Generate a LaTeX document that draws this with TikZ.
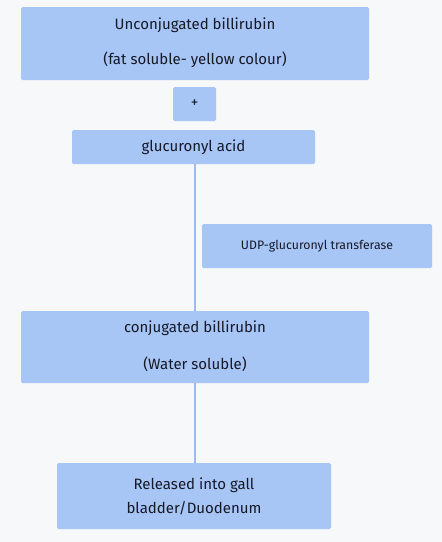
\documentclass[tikz,border=0pt]{standalone}
\usepackage{fontspec}
\setmainfont{Fira Sans}
\definecolor{bg}{HTML}{F7F8FA}
\definecolor{boxfill}{HTML}{A7C5F5}
\definecolor{txt}{HTML}{161927}
\definecolor{linec}{HTML}{9BBCF3}
\begin{document}
\begin{tikzpicture}[x=1pt,y=-1pt,
  box/.style={fill=boxfill, rounded corners=1.5pt, text=txt, font=\fontsize{15}{18}\selectfont},
  lbl/.style={text=txt, font=\fontsize{15}{18}\selectfont},
  conn/.style={draw=linec, line width=1.3pt}]
\fill[bg] (0,0) rectangle (442,542);
\useasboundingbox (0,0) rectangle (442,542);
% boxes
\path[box] (21,7) rectangle (369,80);
\node[lbl] (unc1) at (195,25) {Unconjugated billirubin};
\node[lbl] (unc2) at (195,60) {(fat soluble- yellow colour)};

\node[box, minimum width=43pt, minimum height=34pt, inner sep=0pt, font=\fontsize{15}{18}\selectfont] (plus) at (194.5,104) {+};

\node[box, minimum width=243pt, minimum height=34pt, inner sep=0pt] (gluc) at (193.5,147) {glucuronyl acid};

\node[box, minimum width=230pt, minimum height=44pt, inner sep=0pt, font=\fontsize{12.3}{14}\selectfont] (udp) at (317,246) {UDP-glucuronyl transferase};

\path[box] (21,311) rectangle (369,383);
\coordinate (conjtop) at (195,311);
\coordinate (conjbot) at (195,383);
\node[lbl] (conj1) at (195,328) {conjugated billirubin};
\node[lbl] (conj2) at (195,364) {(Water soluble)};

\node[box, minimum width=274pt, minimum height=66pt, inner sep=0pt, align=center,
  font=\fontsize{15}{24}\selectfont] (rel) at (194,496) {Released into gall\\bladder/Duodenum};

% connectors
\draw[conn] (gluc.south -| conjtop) -- (conjtop);
\draw[conn] (conjbot) -- (rel.north -| conjbot);
\end{tikzpicture}
\end{document}
